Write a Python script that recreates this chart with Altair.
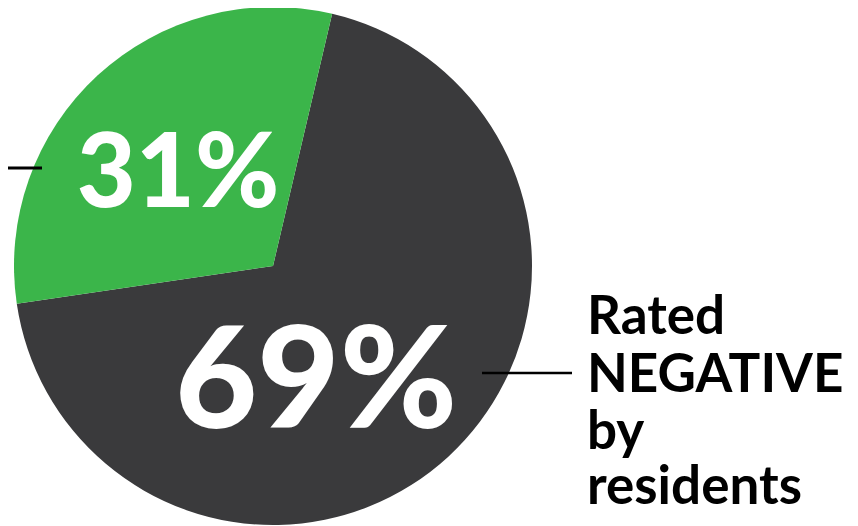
import math
import altair as alt
import pandas as pd

categories = ["Rated NEGATIVE by residents", "Other"]
values = [69, 31]
colors = ["#3A3A3C", "#3BB54A"]
pct_labels = ["69%", "31%"]
right_label_lines = ["Rated", "NEGATIVE", "by", "residents"]

df = pd.DataFrame({"category": categories, "value": values, "order": [0, 1]})

start = math.radians(13.2)
W, H = 842, 518
CX, CY, R = 265, 258, 259

pie = alt.Chart(df).mark_arc(outerRadius=R, stroke=None).encode(
    theta=alt.Theta("value:Q", stack=True,
                    scale=alt.Scale(range=[start, start + 2 * math.pi])),
    color=alt.Color("category:N", scale=alt.Scale(domain=categories, range=colors), legend=None),
    order=alt.Order("order:Q"),
    x=alt.value(CX), y=alt.value(CY),
)

big = alt.Chart(pd.DataFrame({"t": [pct_labels[0]]})).mark_text(
    font="Lato", fontWeight=900, fontSize=142, color="white",
    align="center", baseline="alphabetic"
).encode(text="t:N", x=alt.value(308), y=alt.value(420))

small = alt.Chart(pd.DataFrame({"t": [pct_labels[1]]})).mark_text(
    font="Lato", fontWeight=900, fontSize=102, color="white",
    align="center", baseline="alphabetic"
).encode(text="t:N", x=alt.value(170), y=alt.value(199))

label_layers = []
ys = [326, 384, 441, 496]
for line, yy in zip(right_label_lines, ys):
    label_layers.append(
        alt.Chart(pd.DataFrame({"t": [line]})).mark_text(
            font="Lato", fontWeight="bold", fontSize=53, color="black",
            align="left", baseline="alphabetic"
        ).encode(text="t:N", x=alt.value(579), y=alt.value(yy))
    )

rule_right = alt.Chart(pd.DataFrame({"a": [0]})).mark_rule(color="black", strokeWidth=2.5).encode(
    x=alt.value(474), x2=alt.value(564), y=alt.value(365))
rule_left = alt.Chart(pd.DataFrame({"a": [0]})).mark_rule(color="black", strokeWidth=3).encode(
    x=alt.value(0), x2=alt.value(34), y=alt.value(160))

chart = alt.layer(pie, big, small, *label_layers, rule_right, rule_left).properties(
    width=W, height=H, padding=0, autosize=alt.AutoSizeParams(type="none")
).configure_view(stroke=None)

chart.save("out.html", embed_options={"renderer": "svg", "actions": False})
